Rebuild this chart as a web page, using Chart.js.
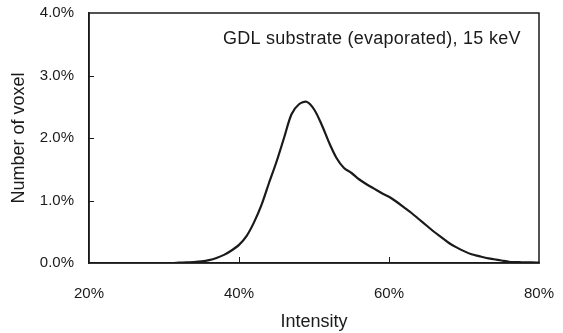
<!DOCTYPE html>
<html>
<head>
<meta charset="utf-8">
<script src="https://cdn.jsdelivr.net/npm/chart.js@4"></script>
<style>
  html, body { margin: 0; padding: 0; background: #fff; }
  #wrap { width: 563px; height: 333px; }
</style>
</head>
<body>
<div id="wrap"><canvas id="histChart"></canvas></div>
<script>
// intensity (%) and share of voxels (%)
const intensity = [20, 21, 22, 23, 24, 25, 26, 27, 28, 29, 30, 31, 32, 33, 34, 35, 36, 37, 38, 39,
    40, 41, 42, 43, 44, 45, 46, 47, 48, 49, 50, 51, 52, 53, 54, 55, 56, 57, 58, 59,
    60, 61, 62, 63, 64, 65, 66, 67, 68, 69, 70, 71, 72, 73, 74, 75, 76, 77, 78, 79, 80];
const voxels = [0, 0, 0, 0, 0, 0, 0, 0, 0, 0, 0, 0, 0.005, 0.01, 0.015, 0.025, 0.045, 0.08, 0.13, 0.2,
    0.29, 0.43, 0.65, 0.93, 1.28, 1.62, 2.0, 2.38, 2.54, 2.58, 2.46, 2.22, 1.93, 1.68, 1.52, 1.44, 1.34, 1.26, 1.19, 1.12,
    1.06, 0.98, 0.89, 0.80, 0.70, 0.60, 0.50, 0.41, 0.32, 0.25, 0.19, 0.14, 0.11, 0.08, 0.06, 0.04, 0.02, 0.015, 0.01, 0.01, 0.005];
const xTicks = [20, 40, 60, 80];
const yTicks = [0, 1, 2, 3, 4];
const note = 'GDL substrate (evaporated), 15 keV';

const FONT = 'Liberation Sans, Arial, sans-serif';
const INK = '#1a1a1a';

// box around the plot, inward tick marks and the note
const framePlugin = {
    id: 'frame',
    afterDraw(chart) {
        const { ctx, chartArea: a, scales } = chart;
        ctx.save();
        ctx.strokeStyle = INK;
        ctx.lineWidth = 1.5;
        ctx.strokeRect(a.left, a.top, a.right - a.left, a.bottom - a.top);
        ctx.lineWidth = 1;
        xTicks.slice(1, -1).forEach(v => {
            const x = Math.round(scales.x.getPixelForValue(v)) + 0.5;
            ctx.beginPath();
            ctx.moveTo(x, a.bottom);
            ctx.lineTo(x, a.bottom - 6);
            ctx.stroke();
        });
        yTicks.slice(1, -1).forEach(v => {
            const y = Math.round(scales.y.getPixelForValue(v)) + 0.5;
            ctx.beginPath();
            ctx.moveTo(a.left, y);
            ctx.lineTo(a.left + 5, y);
            ctx.stroke();
        });
        ctx.fillStyle = INK;
        ctx.font = '18px ' + FONT;
        ctx.letterSpacing = '0.25px';
        ctx.textAlign = 'left';
        ctx.textBaseline = 'middle';
        ctx.fillText(note, 223, 39);
        ctx.restore();
    }
};

new Chart(document.getElementById('histChart'), {
    type: 'line',
    data: {
        datasets: [{
            data: intensity.map((x, i) => ({ x: x, y: voxels[i] })),
            borderColor: INK,
            borderWidth: 2.2,
            pointRadius: 0,
            tension: 0.3,
            fill: false
        }]
    },
    options: {
        responsive: true,
        maintainAspectRatio: false,
        animation: false,
        layout: { padding: { top: 13, right: 24, left: 0, bottom: 0 } },
        plugins: { legend: { display: false }, tooltip: { enabled: false } },
        scales: {
            x: {
                type: 'linear',
                min: 20,
                max: 80,
                afterBuildTicks: s => { s.ticks = xTicks.map(v => ({ value: v })); },
                afterFit: s => { s.height = 70; s.paddingLeft = 0; s.paddingRight = 0; },
                ticks: {
                    color: INK,
                    font: { family: FONT, size: 15 },
                    padding: 22,
                    maxRotation: 0,
                    callback: v => v + '%'
                },
                grid: { drawOnChartArea: false, drawTicks: false },
                border: { color: INK, width: 1.5 },
                title: {
                    display: true,
                    text: 'Intensity',
                    color: INK,
                    font: { family: FONT, size: 18 },
                    padding: { top: 0, bottom: 0 }
                }
            },
            y: {
                min: 0,
                max: 4,
                afterBuildTicks: s => { s.ticks = yTicks.map(v => ({ value: v })); },
                afterFit: s => { s.width = 89; s.paddingTop = 0; s.paddingBottom = 0; },
                ticks: {
                    color: INK,
                    font: { family: FONT, size: 15 },
                    padding: 15,
                    callback: v => v.toFixed(1) + '%'
                },
                grid: { drawOnChartArea: false, drawTicks: false },
                border: { color: INK, width: 1.5 },
                title: {
                    display: true,
                    text: 'Number of voxel',
                    color: INK,
                    font: { family: FONT, size: 18 },
                    padding: { top: 8, bottom: 0 }
                }
            }
        }
    },
    plugins: [framePlugin]
});
</script>
</body>
</html>
